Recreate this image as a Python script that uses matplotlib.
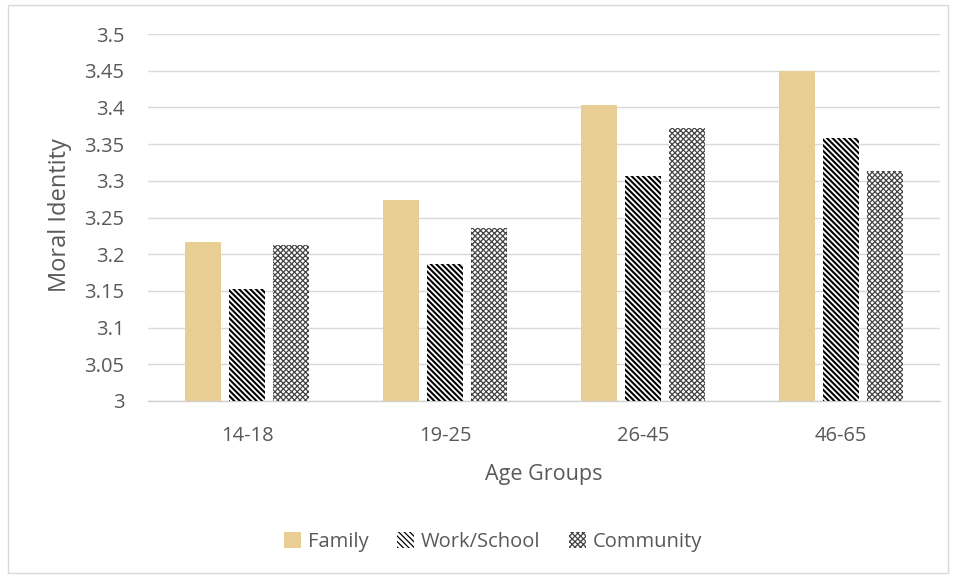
import matplotlib
matplotlib.use("Agg")
import matplotlib.pyplot as plt
import numpy as np
from matplotlib.patches import Rectangle

categories = ["14-18", "19-25", "26-45", "46-65"]
series_names = ["Family", "Work/School", "Community"]
family = [3.217, 3.274, 3.403, 3.450]
work_school = [3.153, 3.186, 3.307, 3.358]
community = [3.212, 3.236, 3.372, 3.313]
y_ticks = [3, 3.05, 3.1, 3.15, 3.2, 3.25, 3.3, 3.35, 3.4, 3.45, 3.5]
y_tick_labels = ["3", "3.05", "3.1", "3.15", "3.2", "3.25", "3.3", "3.35", "3.4", "3.45", "3.5"]

plt.rcParams['font.family'] = ['Open Sans', 'DejaVu Sans']
TXT = '#595959'

fig = plt.figure(figsize=(9.54, 5.78), dpi=100)
fig.patches.append(Rectangle((8/954, 5/578), 940/954, 568/578, transform=fig.transFigure,
                             fill=False, edgecolor='#D9D9D9', linewidth=1.0))
ax = fig.add_axes([148/954, 1-401/578, 792/954, 367/578])

x = np.arange(len(categories))
w = 0.182
off = 0.223
base = 3.0

def set_hlw(bars, lw):
    for b in bars:
        if hasattr(b, 'set_hatch_linewidth'):
            b.set_hatch_linewidth(lw)

b1 = ax.bar(x - off, np.array(family) - base, w, bottom=base, color='#E9CE93', edgecolor='none',
            label=series_names[0], zorder=3)
plt.rcParams['hatch.linewidth'] = 1.5
plt.rcParams['hatch.color'] = 'black'
b2 = ax.bar(x, np.array(work_school) - base, w, bottom=base, facecolor='white', edgecolor='black',
            hatch='\\\\\\\\\\\\', linewidth=0, label=series_names[1], zorder=3)
set_hlw(b2, 1.5)
plt.rcParams['hatch.linewidth'] = 0.9
b3 = ax.bar(x + off, np.array(community) - base, w, bottom=base, facecolor='white', edgecolor='#444444',
            hatch='xxxxxx', linewidth=0, label=series_names[2], zorder=3)
set_hlw(b3, 0.9)

ax.set_ylim(3.0, 3.5)
ax.set_xlim(-0.5, 3.5)
ax.set_yticks(y_ticks)
ax.set_yticklabels(y_tick_labels)
ax.set_xticks(x)
ax.set_xticklabels(categories)
ax.tick_params(axis='both', length=0, labelsize=14.5, colors=TXT)
ax.tick_params(axis='y', pad=17)
ax.tick_params(axis='x', pad=18)
ax.grid(axis='y', color='#D9D9D9', linewidth=1.0, zorder=0)
ax.set_axisbelow(True)
for s in ['top', 'left', 'right']:
    ax.spines[s].set_visible(False)
ax.spines['bottom'].set_color('#D0D0D0')
ax.spines['bottom'].set_linewidth(1.0)

ax.set_ylabel("Moral Identity", fontsize=17, color=TXT, va='center')
ax.yaxis.set_label_coords(-0.111, 0.507)
ax.set_xlabel("Age Groups", fontsize=15.5, color=TXT, va='center')
ax.xaxis.set_label_coords(0.5, -0.2016)

leg = fig.legend(handles=[b1, b2, b3], labels=series_names, loc='center',
                 bbox_to_anchor=(493/954, 1-542/578), ncol=3, frameon=False,
                 fontsize=14.5, handlelength=0.85, handleheight=0.85, columnspacing=1.4,
                 handletextpad=0.35)
for t in leg.get_texts():
    t.set_color(TXT)

fig.savefig("out.png", dpi=100)
